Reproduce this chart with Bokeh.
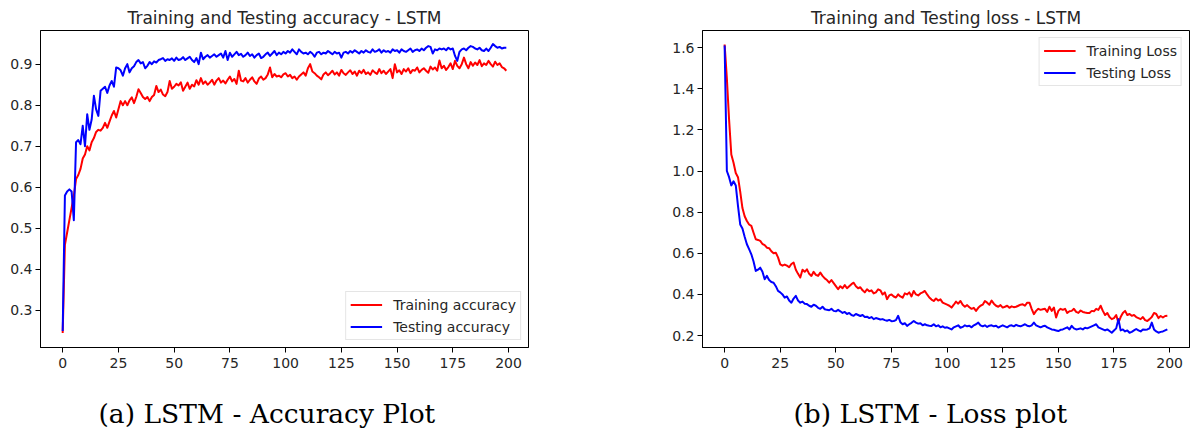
from bokeh.plotting import figure
from bokeh.layouts import row, column
from bokeh.models import Range1d, FixedTicker, PrintfTickFormatter, Label, Legend, LegendItem
from bokeh.embed import file_html
from bokeh.resources import INLINE

epochs = list(range(200))

train_acc = [
    0.245, 0.46, 0.49, 0.52, 0.55, 0.58, 0.62, 0.63, 0.645, 0.67,
    0.68, 0.70, 0.69, 0.71, 0.72, 0.735, 0.74, 0.738, 0.745, 0.757,
    0.745, 0.76, 0.775, 0.786, 0.77, 0.79, 0.81, 0.80, 0.81, 0.80,
    0.812, 0.819, 0.805, 0.82, 0.839, 0.83, 0.82, 0.815, 0.82, 0.81,
    0.82, 0.825, 0.847, 0.832, 0.838, 0.826, 0.822, 0.832, 0.859, 0.84,
    0.845, 0.852, 0.848, 0.856, 0.835, 0.845, 0.855, 0.84, 0.85, 0.846,
    0.861, 0.85, 0.866, 0.852, 0.858, 0.85, 0.855, 0.862, 0.85, 0.86,
    0.866, 0.855, 0.86, 0.853, 0.862, 0.87, 0.858, 0.864, 0.852, 0.884,
    0.86, 0.858, 0.866, 0.855, 0.862, 0.868, 0.858, 0.852, 0.865, 0.87,
    0.862, 0.866, 0.875, 0.892, 0.868, 0.876, 0.87, 0.872, 0.868, 0.875,
    0.878, 0.87, 0.874, 0.866, 0.87, 0.862, 0.87, 0.875, 0.88, 0.872,
    0.89, 0.9, 0.882, 0.878, 0.872, 0.868, 0.863, 0.875, 0.88, 0.873,
    0.878, 0.884, 0.875, 0.88, 0.872, 0.886, 0.878, 0.874, 0.88, 0.885,
    0.876, 0.882, 0.872, 0.884, 0.878, 0.886, 0.876, 0.88, 0.874, 0.885,
    0.88, 0.876, 0.888, 0.878, 0.884, 0.876, 0.882, 0.888, 0.866, 0.90,
    0.88, 0.885, 0.876, 0.888, 0.882, 0.89, 0.878, 0.886, 0.884, 0.892,
    0.88, 0.886, 0.89, 0.884, 0.879, 0.894, 0.887, 0.892, 0.884, 0.909,
    0.89, 0.896, 0.886, 0.893, 0.902, 0.888, 0.908, 0.896, 0.89, 0.90,
    0.916, 0.90, 0.89, 0.905, 0.896, 0.904, 0.898, 0.91, 0.895, 0.902,
    0.898, 0.908, 0.90, 0.894, 0.906, 0.898, 0.902, 0.893, 0.89, 0.884,
]

test_acc = [
    0.25, 0.58, 0.59, 0.595, 0.59, 0.52, 0.71, 0.715, 0.705, 0.75,
    0.70, 0.778, 0.74, 0.765, 0.823, 0.79, 0.774, 0.835, 0.84, 0.845,
    0.83, 0.848, 0.859, 0.845, 0.892, 0.89, 0.885, 0.872, 0.89, 0.90,
    0.88, 0.89, 0.895, 0.905, 0.91, 0.902, 0.905, 0.89, 0.896, 0.905,
    0.90, 0.907, 0.904, 0.91, 0.912, 0.915, 0.908, 0.912, 0.91, 0.914,
    0.908, 0.916, 0.91, 0.912, 0.917, 0.91, 0.914, 0.918, 0.91, 0.905,
    0.915, 0.90, 0.928, 0.912, 0.918, 0.922, 0.916, 0.92, 0.924, 0.918,
    0.922, 0.926, 0.916, 0.932, 0.91, 0.928, 0.918, 0.924, 0.93, 0.922,
    0.925, 0.918, 0.922, 0.928, 0.92, 0.924, 0.916, 0.922, 0.926, 0.915,
    0.918, 0.924, 0.928, 0.92, 0.926, 0.932, 0.922, 0.928, 0.924, 0.93,
    0.926, 0.932, 0.928, 0.936, 0.93, 0.924, 0.936, 0.93, 0.926, 0.928,
    0.924, 0.93, 0.926, 0.918, 0.928, 0.93, 0.924, 0.928, 0.926, 0.932,
    0.928, 0.924, 0.93, 0.926, 0.928, 0.916, 0.928, 0.93, 0.926, 0.932,
    0.928, 0.934, 0.93, 0.926, 0.932, 0.928, 0.934, 0.93, 0.928, 0.936,
    0.93, 0.932, 0.936, 0.928, 0.934, 0.93, 0.932, 0.928, 0.936, 0.932,
    0.934, 0.928, 0.936, 0.932, 0.93, 0.934, 0.938, 0.93, 0.934, 0.936,
    0.932, 0.938, 0.934, 0.94, 0.944, 0.942, 0.926, 0.936, 0.934, 0.938,
    0.936, 0.938, 0.934, 0.94, 0.936, 0.938, 0.92, 0.908, 0.93, 0.936,
    0.938, 0.934, 0.94, 0.944, 0.942, 0.938, 0.936, 0.94, 0.934, 0.932,
    0.938, 0.932, 0.94, 0.949, 0.944, 0.94, 0.942, 0.938, 0.94, 0.94,
]

train_loss = [
    1.615, 1.45, 1.25, 1.08, 1.04, 0.99, 0.97, 0.90, 0.82, 0.78,
    0.757, 0.74, 0.733, 0.70, 0.668, 0.665, 0.66, 0.645, 0.64, 0.627,
    0.625, 0.61, 0.60, 0.603, 0.58, 0.546, 0.54, 0.545, 0.54, 0.532,
    0.548, 0.555, 0.52, 0.50, 0.482, 0.52, 0.51, 0.522, 0.50, 0.49,
    0.51, 0.495, 0.49, 0.506, 0.49, 0.478, 0.47, 0.457, 0.47, 0.455,
    0.44, 0.425, 0.44, 0.43, 0.445, 0.43, 0.44, 0.45, 0.457, 0.44,
    0.43, 0.435, 0.42, 0.41, 0.425, 0.415, 0.42, 0.405, 0.41, 0.425,
    0.42, 0.40, 0.41, 0.377, 0.395, 0.40, 0.39, 0.385, 0.40, 0.39,
    0.384, 0.405, 0.40, 0.41, 0.39, 0.417, 0.40, 0.395, 0.405, 0.41,
    0.417, 0.40, 0.385, 0.375, 0.368, 0.38, 0.37, 0.376, 0.36, 0.355,
    0.35, 0.345, 0.336, 0.35, 0.365, 0.355, 0.368, 0.35, 0.34, 0.348,
    0.338, 0.33, 0.335, 0.32, 0.335, 0.345, 0.35, 0.368, 0.36, 0.35,
    0.37, 0.355, 0.345, 0.34, 0.348, 0.336, 0.34, 0.345, 0.335, 0.342,
    0.338, 0.34, 0.345, 0.35, 0.352, 0.345, 0.36, 0.36, 0.33, 0.304,
    0.32, 0.33, 0.325, 0.328, 0.33, 0.315, 0.34, 0.32, 0.336, 0.288,
    0.32, 0.33, 0.325, 0.33, 0.31, 0.318, 0.32, 0.33, 0.315, 0.31,
    0.322, 0.315, 0.312, 0.31, 0.31, 0.32, 0.318, 0.33, 0.325, 0.345,
    0.32, 0.30, 0.31, 0.29, 0.28, 0.285, 0.30, 0.263, 0.29, 0.31,
    0.32, 0.30, 0.305, 0.296, 0.30, 0.29, 0.285, 0.28, 0.29, 0.275,
    0.271, 0.28, 0.29, 0.31, 0.305, 0.285, 0.295, 0.288, 0.295, 0.296,
]

test_loss = [
    1.61, 1.0, 0.97, 0.93, 0.95, 0.93, 0.83, 0.74, 0.72, 0.68,
    0.644, 0.62, 0.595, 0.56, 0.514, 0.52, 0.53, 0.51, 0.474, 0.49,
    0.47, 0.46, 0.457, 0.44, 0.417, 0.41, 0.40, 0.384, 0.39, 0.37,
    0.36, 0.38, 0.393, 0.37, 0.36, 0.365, 0.355, 0.353, 0.345, 0.34,
    0.35, 0.345, 0.335, 0.33, 0.34, 0.328, 0.325, 0.323, 0.33, 0.32,
    0.318, 0.325, 0.318, 0.31, 0.315, 0.305, 0.31, 0.30, 0.296, 0.305,
    0.30, 0.295, 0.30, 0.29, 0.292, 0.285, 0.29, 0.28, 0.285, 0.282,
    0.278, 0.28, 0.275, 0.272, 0.276, 0.27, 0.271, 0.275, 0.296, 0.265,
    0.255, 0.26, 0.247, 0.255, 0.262, 0.271, 0.263, 0.258, 0.26, 0.25,
    0.255, 0.25, 0.248, 0.247, 0.255, 0.245, 0.25, 0.24, 0.245, 0.238,
    0.24, 0.235, 0.23, 0.24, 0.245, 0.25, 0.238, 0.242, 0.25, 0.245,
    0.248, 0.24, 0.25, 0.255, 0.263, 0.25, 0.245, 0.25, 0.242, 0.248,
    0.25, 0.245, 0.248, 0.239, 0.245, 0.25, 0.245, 0.24, 0.248, 0.25,
    0.245, 0.252, 0.248, 0.245, 0.25, 0.255, 0.248, 0.245, 0.25, 0.263,
    0.25, 0.245, 0.24, 0.245, 0.248, 0.24, 0.235, 0.23, 0.228, 0.225,
    0.222, 0.228, 0.23, 0.235, 0.24, 0.23, 0.247, 0.235, 0.23, 0.232,
    0.235, 0.23, 0.238, 0.235, 0.24, 0.245, 0.25, 0.255, 0.24, 0.235,
    0.23, 0.225, 0.23, 0.222, 0.214, 0.225, 0.235, 0.28, 0.225, 0.23,
    0.22, 0.225, 0.214, 0.218, 0.225, 0.232, 0.225, 0.22, 0.23, 0.228,
    0.23, 0.235, 0.263, 0.23, 0.22, 0.214, 0.218, 0.22, 0.225, 0.23,
]

x_ticks = [0, 25, 50, 75, 100, 125, 150, 175, 200]
acc_ticks = [0.3, 0.4, 0.5, 0.6, 0.7, 0.8, 0.9]
loss_ticks = [0.2, 0.4, 0.6, 0.8, 1.0, 1.2, 1.4, 1.6]

acc_title = "Training and Testing accuracy - LSTM"
loss_title = "Training and Testing loss - LSTM"
acc_labels = ["Training accuracy", "Testing accuracy"]
loss_labels = ["Training Loss", "Testing Loss"]
captions = ["(a) LSTM - Accuracy Plot", "(b) LSTM - Loss plot"]

SANS = "DejaVu Sans"
SERIF = "DejaVu Serif"
TXT = "#262626"
W = 1191
TOP_H = 28
FRAME_H = 317
ROW_H = 2 + FRAME_H + 30
CAP_H = 52


def strip(height):
    s = figure(width=W, height=height, output_backend="svg", toolbar_location=None,
               x_range=Range1d(0, W), y_range=Range1d(0, height),
               x_axis_location=None, y_axis_location=None, min_border=0)
    s.outline_line_color = None
    s.xgrid.visible = False
    s.ygrid.visible = False
    s.background_fill_color = "white"
    s.border_fill_color = "white"
    return s


def make_panel(width, left, right, yr, yticks, s1, s2, labels, legend_loc):
    p = figure(width=width, height=ROW_H, output_backend="svg", toolbar_location=None,
               x_range=Range1d(-9.95, 208.95), y_range=Range1d(*yr),
               min_border_left=left, min_border_right=right,
               min_border_top=2, min_border_bottom=ROW_H - 2 - FRAME_H)
    p.background_fill_color = "white"
    p.border_fill_color = "white"
    p.outline_line_color = "black"
    p.outline_line_width = 1
    p.xgrid.visible = False
    p.ygrid.visible = False
    for ax in (p.xaxis[0], p.yaxis[0]):
        ax.axis_line_color = "black"
        ax.major_tick_line_color = "black"
        ax.major_tick_out = 5
        ax.major_tick_in = 0
        ax.minor_tick_line_color = None
        ax.major_label_text_font = SANS
        ax.major_label_text_font_size = "14px"
        ax.major_label_text_color = TXT
    p.xaxis[0].ticker = FixedTicker(ticks=x_ticks)
    p.xaxis[0].major_label_standoff = 5
    p.yaxis[0].ticker = FixedTicker(ticks=yticks)
    p.yaxis[0].formatter = PrintfTickFormatter(format="%.1f")
    p.yaxis[0].major_label_standoff = 3

    r1 = p.line(epochs, s1, line_color="#ff0000", line_width=2, line_join="round")
    r2 = p.line(epochs, s2, line_color="#0000ff", line_width=2, line_join="round")

    leg = Legend(items=[LegendItem(label=labels[0], renderers=[r1]),
                        LegendItem(label=labels[1], renderers=[r2])],
                 location=legend_loc, margin=7, padding=4, spacing=5,
                 glyph_width=32, glyph_height=17, label_height=17,
                 label_standoff=11,
                 label_text_font=SANS, label_text_font_size="14px",
                 label_text_color=TXT,
                 border_line_color="#cccccc", border_line_width=1,
                 background_fill_color="white", background_fill_alpha=0.8)
    p.add_layout(leg)
    return p


p1 = make_panel(568, 40, 40, (0.2098, 0.982), acc_ticks, train_acc, test_acc,
                acc_labels, "bottom_right")
p2 = make_panel(W - 568, 134, 2, (0.142, 1.683), loss_ticks, train_loss, test_loss,
                loss_labels, "top_right")

top = strip(TOP_H)
for cx, t in ((284, acc_title), (945.5, loss_title)):
    top.add_layout(Label(x=cx, y=10.3, x_units="screen", y_units="screen", text=t,
                         text_align="center", text_baseline="alphabetic",
                         text_font=SANS, text_font_size="17px", text_color=TXT))

bottom = strip(CAP_H)
for cx, t in ((98, captions[0]), (793, captions[1])):
    bottom.add_layout(Label(x=cx, y=16, x_units="screen", y_units="screen", text=t,
                            text_align="left", text_baseline="alphabetic",
                            text_font=SERIF, text_font_size="26.5px", text_color="black"))

layout = column(top, row(p1, p2), bottom)
open("out.html", "w").write(file_html(layout, INLINE))
